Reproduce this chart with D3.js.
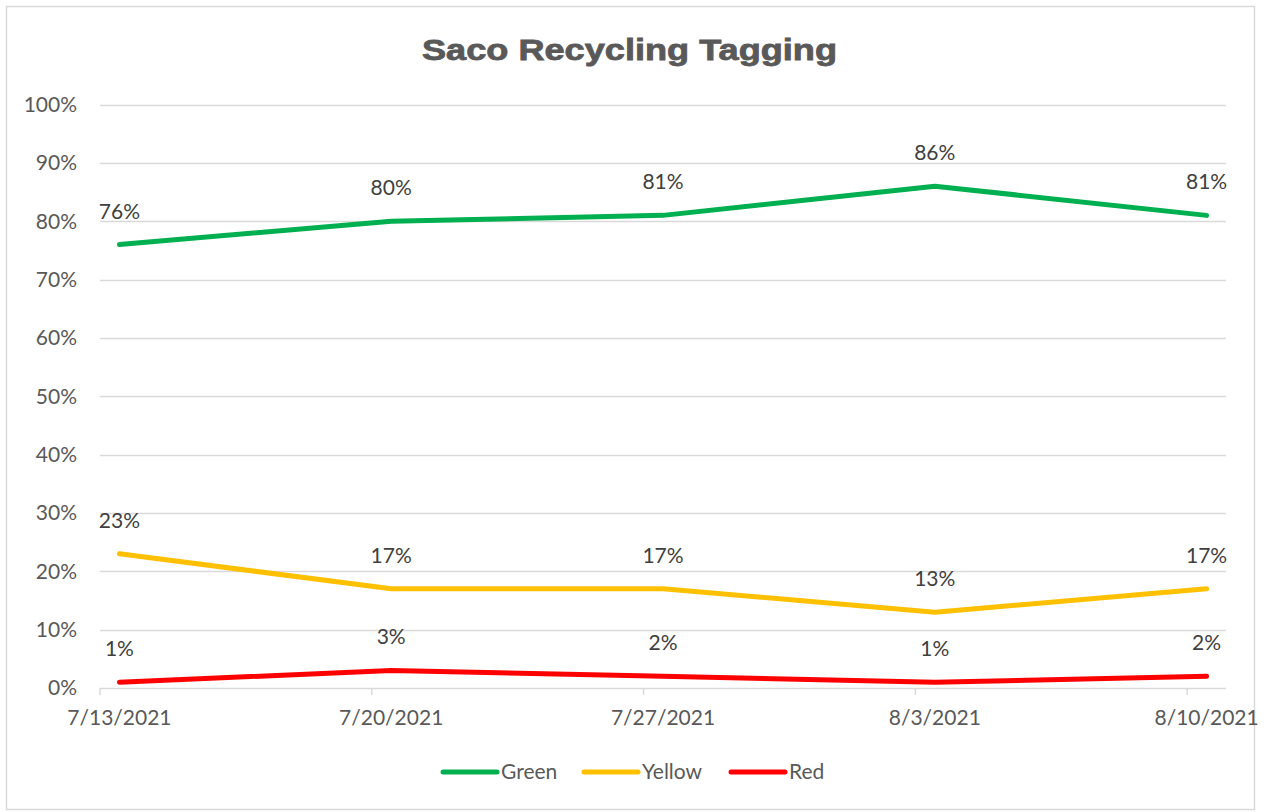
<!DOCTYPE html>
<html>
<head>
<meta charset="utf-8">
<script src="https://cdn.jsdelivr.net/npm/d3@7"></script>
<style>
  body { margin: 0; background: #fff; }
  svg text { font-family: Lato, "Open Sans", sans-serif; }
</style>
</head>
<body>
<svg id="chart" width="1266" height="812"></svg>
<script>
// data
var dates = ["2021-07-13", "2021-07-20", "2021-07-27", "2021-08-03", "2021-08-10"];
var tickLabels = ["7/13/2021", "7/20/2021", "7/27/2021", "8/3/2021", "8/10/2021"];
var greenVals = [0.76, 0.80, 0.81, 0.86, 0.81];
var yellowVals = [0.23, 0.17, 0.17, 0.13, 0.17];
var redVals = [0.01, 0.03, 0.02, 0.01, 0.02];
var seriesNames = ["Green", "Yellow", "Red"];
var seriesColors = ["#00B050", "#FFC000", "#FF0000"];

var svg = d3.select("#chart"),
    width = +svg.attr("width"),
    height = +svg.attr("height");

// chart border
svg.append("rect")
    .attr("x", 6.5).attr("y", 6.5)
    .attr("width", 1248).attr("height", 803)
    .attr("fill", "#fff")
    .attr("stroke", "#D9D9D9")
    .attr("stroke-width", 1.5);

var parse = d3.utcParse("%Y-%m-%d");
var days = dates.map(parse);
var halfDay = 12 * 3600 * 1000;

// date axis: one slot per day, points sit in the middle of the day
var x = d3.scaleUtc()
    .domain([days[0], d3.utcDay.offset(days[days.length - 1], 1)])
    .range([100, 1226]);

var y = d3.scaleLinear()
    .domain([0, 1])
    .range([688, 104.5]);

var pct = d3.format(".0%");

// title (wide heavy face, stretched to the reference width)
svg.append("text")
    .attr("x", 422).attr("y", 60)
    .attr("textLength", 415)
    .attr("lengthAdjust", "spacingAndGlyphs")
    .style("font-family", "'Liberation Sans', Arial, sans-serif")
    .style("font-weight", "bold")
    .style("font-size", "29px")
    .attr("fill", "#595959")
    .attr("stroke", "#595959")
    .attr("stroke-width", 0.8)
    .text("Saco Recycling Tagging");

// gridlines
var yTicks = d3.range(0, 1.01, 0.1);
svg.append("g")
    .selectAll("line")
    .data(yTicks.slice(1))
    .join("line")
    .attr("x1", x.range()[0]).attr("x2", x.range()[1])
    .attr("y1", d => Math.round(y(d)) + 0.5)
    .attr("y2", d => Math.round(y(d)) + 0.5)
    .attr("stroke", "#D9D9D9")
    .attr("stroke-width", 1.5);

// y labels
svg.append("g")
    .selectAll("text")
    .data(yTicks)
    .join("text")
    .attr("x", 77)
    .attr("y", d => y(d))
    .attr("dy", "0.35em")
    .attr("text-anchor", "end")
    .style("font-size", "21px")
    .attr("fill", "#595959")
    .text(d => pct(d));

// x axis line + ticks
svg.append("line")
    .attr("x1", x.range()[0]).attr("x2", x.range()[1])
    .attr("y1", 688.5).attr("y2", 688.5)
    .attr("stroke", "#D9D9D9")
    .attr("stroke-width", 1.5);

svg.append("g")
    .selectAll("line")
    .data(days)
    .join("line")
    .attr("x1", d => x(d)).attr("x2", d => x(d))
    .attr("y1", 688).attr("y2", 695)
    .attr("stroke", "#D9D9D9")
    .attr("stroke-width", 1.5);

svg.append("g")
    .selectAll("text")
    .data(days)
    .join("text")
    .attr("x", d => x(new Date(+d + halfDay)))
    .attr("y", 725)
    .attr("text-anchor", "middle")
    .style("font-size", "21px")
    .attr("fill", "#595959")
    .text((d, i) => tickLabels[i]);

// series
var series = [greenVals, yellowVals, redVals].map(function (vals, i) {
    return {
        name: seriesNames[i],
        color: seriesColors[i],
        points: vals.map((v, j) => ({ date: new Date(+days[j] + halfDay), value: v }))
    };
});

var line = d3.line()
    .x(d => x(d.date))
    .y(d => y(d.value));

svg.append("g")
    .selectAll("path")
    .data(series)
    .join("path")
    .attr("d", d => line(d.points))
    .attr("fill", "none")
    .attr("stroke", d => d.color)
    .attr("stroke-width", 5)
    .attr("stroke-linecap", "round")
    .attr("stroke-linejoin", "round");

// data labels
series.forEach(function (s) {
    svg.append("g")
        .selectAll("text")
        .data(s.points)
        .join("text")
        .attr("x", d => x(d.date))
        .attr("y", d => y(d.value) - 26)
        .attr("text-anchor", "middle")
        .style("font-size", "21px")
        .attr("fill", "#404040")
        .text(d => pct(d.value));
});

// legend
var legendX = [443, 584, 731];
var legend = svg.append("g")
    .selectAll("g")
    .data(series)
    .join("g")
    .attr("transform", (d, i) => "translate(" + legendX[i] + ",772)");

legend.append("line")
    .attr("x1", 0).attr("x2", 54)
    .attr("y1", 0).attr("y2", 0)
    .attr("stroke", d => d.color)
    .attr("stroke-width", 5)
    .attr("stroke-linecap", "round");

legend.append("text")
    .attr("x", 58)
    .attr("y", 0)
    .attr("dy", "0.35em")
    .style("font-size", "21px")
    .attr("fill", "#595959")
    .text(d => d.name);
</script>
</body>
</html>
